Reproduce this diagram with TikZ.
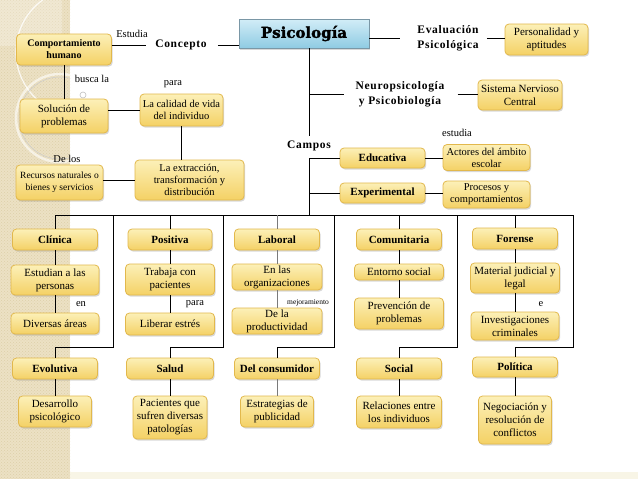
\documentclass[tikz,border=0pt]{standalone}
\usepackage{fontspec}
\setmainfont{Liberation Serif}
\newfontfamily\spacedfont[LetterSpace=6]{Liberation Serif}
\newfontfamily\heavyfont[FakeBold=2]{DejaVu Serif}
\usetikzlibrary{shadows,patterns}
\definecolor{boxtop}{HTML}{FCF0B8}
\definecolor{boxbot}{HTML}{F4D165}
\definecolor{boxline}{HTML}{E2B84C}
\definecolor{psitop}{HTML}{D2EDF7}
\definecolor{psibot}{HTML}{8FCBE3}
\definecolor{psiline}{HTML}{7A97A6}
\definecolor{stripc}{HTML}{ECE1C4}
\definecolor{stripdot}{HTML}{DDCFA9}
\definecolor{bandc}{HTML}{F8F5E6}
\definecolor{grayline}{HTML}{7A7A7A}
\begin{document}
\begin{tikzpicture}[x=1pt,y=-1pt,
  sz/.style 2 args={minimum width=#1pt, minimum height=#2pt},
  box/.style={draw=boxline, line width=0.8pt, rounded corners=4pt, top color=boxtop, bottom color=boxbot,
    drop shadow={opacity=0.3, shadow xshift=1.2pt, shadow yshift=-1.6pt},
    align=center, inner sep=1pt, text=black, font=\fontsize{11}{13}\selectfont},
  head/.style={box, font=\bfseries\fontsize{11}{13}\selectfont},
  psibox/.style={draw=psiline, line width=0.8pt, top color=psitop, bottom color=psibot,
    drop shadow={opacity=0.3, shadow xshift=1.2pt, shadow yshift=-1.6pt}, inner sep=1pt},
  lab/.style={inner sep=0pt, font=\fontsize{10.5}{12}\selectfont},
  title/.style={inner sep=0pt, align=center, font=\spacedfont\bfseries\fontsize{11.5}{15}\selectfont},
  conn/.style={line width=0.9pt, draw=black},
  gconn/.style={line width=0.9pt, draw=grayline}]
\useasboundingbox (0,0) rectangle (638,479);
% background
\fill[white] (0,0) rectangle (638,479);
\fill[bandc] (70,472) rectangle (638,479);
\fill[stripc] (0,0) rectangle (70,479);
\fill[pattern=crosshatch dots, pattern color=stripdot] (0,0) rectangle (70,479);
\fill[white, opacity=0.25] (0,0) rectangle (62,46);
\begin{scope}
  \clip (0,0) rectangle (70,479);
  \draw[white, line width=1.2pt, opacity=0.8] (80,52) circle[radius=64pt];
  \draw[white, line width=2.5pt, opacity=0.6] (60,118) circle[radius=44pt];
  \draw[black!20, line width=0.5pt] (60,118) circle[radius=41pt];
\end{scope}
\draw[black!25, line width=0.6pt] (83,95) circle[radius=3pt];

% top part
\node[psibox, sz={130}{29}] (psi) at (304,33.5) {\heavyfont\bfseries\fontsize{15}{15}\selectfont Psicología};
\coordinate (tr) at (309,48);
\node[title] (concepto) at (181,45) {Concepto};
\node[head, sz={95}{31}, font=\bfseries\fontsize{10}{12}\selectfont] (comp) at (64,49.5) {Comportamiento\\humano};
\node[lab] (lestudia) at (132,34) {Estudia};
\draw[conn, shorten >=9pt] (comp.east |- concepto.west) -- (concepto.west);
\draw[conn, shorten <=11pt] (concepto.east) -- (psi.west |- concepto.east);

\node[title] (eval) at (448,38) {Evaluación\\Psicológica};
\node[box, sz={83}{31}] (pers) at (546.5,39.5) {Personalidad y\\aptitudes};
\draw[conn, shorten >=17pt] (psi.east |- eval.west) -- (eval.west);
\draw[conn, shorten <=8pt] (eval.east) -- (pers.west |- eval.east);

\node[title] (neuro) at (400,94) {Neuropsicología\\y Psicobiología};
\node[box, sz={84}{30}] (snc) at (520,95) {Sistema Nervioso\\Central};
\coordinate (kn) at (309,94);
\draw[conn, shorten >=11pt] (kn) -- (neuro.west);
\draw[conn, shorten <=13pt] (neuro.east) -- (snc.west |- neuro.east);

\node[title, font=\spacedfont\bfseries\fontsize{11.5}{13}\selectfont, inner ysep=5pt] (campos) at (309,146) {Campos};
\draw[conn] (tr) -- (campos.north);

\node[head, sz={85}{20}] (edu) at (382.5,158) {Educativa};
\node[head, sz={85}{20}] (expe) at (382.5,193) {Experimental};
\node[box, sz={87}{26}, font=\fontsize{10.5}{12}\selectfont] (act) at (486.5,157.5) {Actores del ámbito\\escolar};
\node[box, sz={87}{27}, font=\fontsize{10.5}{12}\selectfont] (proc) at (486.5,194.5) {Procesos y\\comportamientos};
\node[lab] (lestud2) at (457,133) {estudia};
\coordinate (ke) at (309,158);
\coordinate (kx) at (309,193);
\coordinate (kb) at (309,215);
\draw[conn] (edu.west) -- (ke) -- (kb);
\draw[conn] (kx) -- (expe.west);
\draw[conn] (edu.east) -- (act.west |- edu.east);
\draw[conn] (expe.east) -- (proc.west |- expe.east);

% left part
\node[box, sz={88}{34}] (sol) at (64,116) {Solución de\\problemas};
\draw[conn] (comp) -- (sol);
\node[lab] at (92,79) {busca la};
\node[box, sz={83}{32}, font=\fontsize{10.5}{12.5}\selectfont] (cal) at (181.5,110) {La calidad de vida\\del individuo};
\draw[conn] (sol.east |- cal.west) -- (cal.west);
\node[lab] at (173,84) {para};
\node[box, sz={109}{40}, font=\fontsize{10.5}{12}\selectfont] (ext) at (189.5,180) {La extracción,\\transformación y\\distribución};
\draw[conn] (cal.south) -- (cal.south |- ext.north);
\node[box, sz={87}{35}, font=\fontsize{9.5}{12}\selectfont] (rec) at (59.5,182.5) {Recursos naturales o\\bienes y servicios};
\draw[conn] (rec.east |- ext.west) -- (ext.west);
\node[lab] at (67,159) {De los};

% fields row 1
\node[head, sz={85}{21}] (clin) at (55,239.5) {Clínica};
\node[box, sz={88}{30}] (estu) at (55,280) {Estudian a las\\personas};
\node[box, sz={88}{21}] (dive) at (55,323.5) {Diversas áreas};
\node[lab] at (81,304) {en};
\node[head, sz={84}{21}] (posi) at (170,239.5) {Positiva};
\node[box, sz={89}{31}] (trab) at (170,279.5) {Trabaja con\\pacientes};
\node[box, sz={89}{22}] (libe) at (170,324) {Liberar estrés};
\node[lab] at (195,304) {para};
\node[head, sz={85}{21}] (labo) at (277,239.5) {Laboral};
\node[box, sz={90}{26}] (orga) at (277,277) {En las\\organizaciones};
\node[box, sz={90}{26}] (prod) at (277,321) {De la\\productividad};
\node[lab, font=\fontsize{7.5}{8}\selectfont] at (308,303) {mejoramiento};
\node[head, sz={85}{21}] (comu) at (399,239.5) {Comunitaria};
\node[box, sz={89}{16}] (ento) at (399,272) {Entorno social};
\node[box, sz={89}{31}] (prev) at (399,313.5) {Prevención de\\problemas};
\node[head, sz={85}{21}] (fore) at (515,238.5) {Forense};
\node[box, sz={89}{30}] (mate) at (515,278) {Material judicial y\\legal};
\node[box, sz={88}{28}] (inve) at (515,326) {Investigaciones\\criminales};
\node[lab] at (541,304) {e};

% fields row 2
\node[head, sz={85}{21}] (evol) at (55,368.5) {Evolutiva};
\node[box, sz={73}{31}] (desa) at (55,411.5) {Desarrollo\\psicológico};
\node[head, sz={87}{21}] (salu) at (170,368.5) {Salud};
\node[box, sz={74}{43}] (paci) at (170,417.5) {Pacientes que\\sufren diversas\\patologías};
\node[head, sz={85}{21}] (cons) at (277,368.5) {Del consumidor};
\node[box, sz={73}{31}] (estr) at (277,411.5) {Estrategias de\\publicidad};
\node[head, sz={85}{21}] (soci) at (399,368.5) {Social};
\node[box, sz={85}{32}] (rela) at (399,412) {Relaciones entre\\los individuos};
\node[head, sz={85}{20}] (poli) at (515,367) {Política};
\node[box, sz={73}{48}] (nego) at (515,420) {Negociación y\\resolución de\\conflictos};

% tree coordinates
\coordinate (b1) at (55,215);
\coordinate (b2) at (170,215);
\coordinate (b3) at (277,215);
\coordinate (b4) at (399,215);
\coordinate (b5) at (515,215);
\coordinate (v1) at (113,215); \coordinate (w1) at (113,347); \coordinate (u1) at (55,347);
\coordinate (v2) at (223,215); \coordinate (w2) at (223,347); \coordinate (u2) at (170,347);
\coordinate (v3) at (334,215); \coordinate (w3) at (334,347); \coordinate (u3) at (277,347);
\coordinate (v4) at (457,215); \coordinate (w4) at (457,347); \coordinate (u4) at (399,347);
\coordinate (v5) at (573,215); \coordinate (w5) at (573,347); \coordinate (u5) at (515,347);
\draw[conn] (b1) -- (v5);

\draw[conn] (b1) -- (clin);
\draw[conn] (clin) -- (estu);
\draw[conn] (estu) -- (dive);
\draw[conn] (b2) -- (posi);
\draw[conn] (posi) -- (trab);
\draw[conn] (trab) -- (libe);
\draw[gconn] (b3) -- (labo);
\draw[gconn] (labo) -- (orga);
\draw[gconn] (orga) -- (prod);
\draw[conn] (b4) -- (comu);
\draw[conn] (comu) -- (ento);
\draw[conn] (ento) -- (prev);
\draw[conn] (b5) -- (fore);
\draw[conn] (fore) -- (mate);
\draw[conn] (mate) -- (inve);

\draw[conn] (v1) -- (w1) -- (u1) -- (evol);
\draw[conn] (evol) -- (desa);
\draw[conn] (v2) -- (w2) -- (u2) -- (salu);
\draw[conn] (salu) -- (paci);
\draw[conn] (v3) -- (w3) -- (u3) -- (cons);
\draw[gconn] (cons) -- (estr);
\draw[conn] (v4) -- (w4) -- (u4) -- (soci);
\draw[conn] (soci) -- (rela);
\draw[conn] (v5) -- (w5) -- (u5) -- (poli);
\draw[conn] (poli) -- (nego);
\end{tikzpicture}
\end{document}
